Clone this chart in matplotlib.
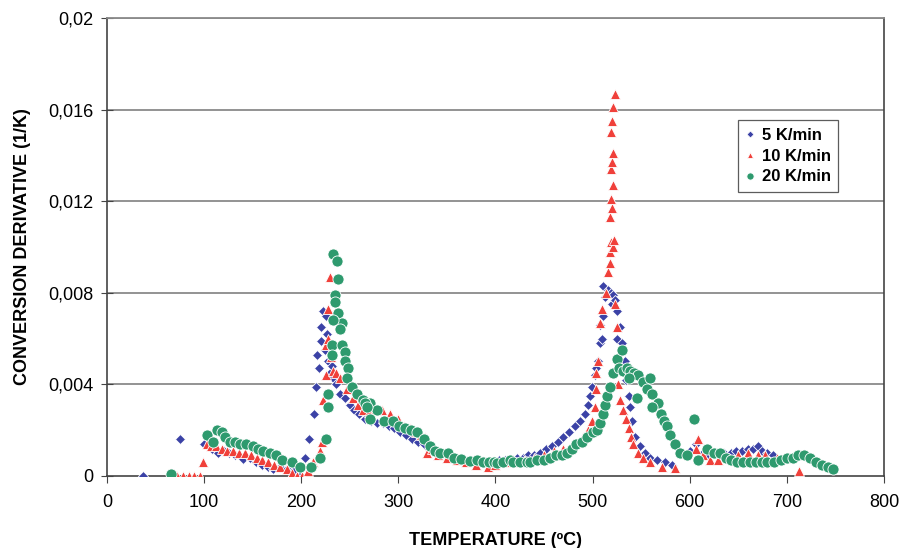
import matplotlib
matplotlib.use("Agg")
import matplotlib.pyplot as plt

# 5 K/min (blue diamonds)
T5 = [37, 75, 100, 108, 114, 120, 126, 132, 140, 147, 153, 160, 166, 171, 178, 185, 192, 199,
      204, 208, 213, 215, 218, 216, 220, 220, 222, 225, 227, 224, 228, 230, 232, 233, 236, 240,
      245, 250, 254, 260, 266, 272, 278, 284, 290, 296, 302, 308, 314, 320, 326, 332, 338, 344,
      350, 356, 362, 368, 374, 380, 386, 392, 398, 404, 410, 416, 422, 428, 434, 440, 446, 452,
      458, 464, 470, 476, 482, 487, 492, 495, 497, 499, 502, 504, 506, 508, 510, 508, 511, 513,
      511, 516, 519, 521, 520, 523, 525, 525, 528, 530, 533, 534, 537, 539, 541, 544, 549, 554,
      559, 566, 575, 582, 600, 606, 614, 620, 628, 635, 642, 648, 654, 660, 665, 670, 674, 680, 686]
d5 = [0.0, 0.0016, 0.0014, 0.0012, 0.0010, 0.0011, 0.0010, 0.0009, 0.00075, 0.0008, 0.0006,
      0.0005, 0.0004, 0.0003, 0.0004, 0.0003, 0.0002, 0.0, 0.0008, 0.0016, 0.0027, 0.0039,
      0.0047, 0.0053, 0.0059, 0.0065, 0.0072, 0.0070, 0.0062, 0.0055, 0.0050, 0.0045, 0.0048,
      0.0043, 0.0040, 0.0036, 0.0034, 0.0031, 0.0029, 0.0027, 0.0025, 0.0024, 0.0023, 0.0023,
      0.0022, 0.0021, 0.0019, 0.0018, 0.0016, 0.0015, 0.0014, 0.0012, 0.0011, 0.0010, 0.0009,
      0.0008, 0.0007, 0.0007, 0.0006, 0.0006, 0.0006, 0.0006, 0.0006, 0.0007, 0.0007, 0.0007,
      0.0008, 0.0008, 0.0009, 0.0009, 0.0010, 0.0012, 0.0013, 0.0015, 0.0017, 0.0019, 0.0022,
      0.0024, 0.0027, 0.0031, 0.0035, 0.0039, 0.0044, 0.0047, 0.0050, 0.0058, 0.0060, 0.0066,
      0.0070, 0.0078, 0.0083, 0.0081, 0.0080, 0.0079, 0.0075, 0.0077, 0.0072, 0.0060, 0.0065,
      0.0058, 0.0050, 0.0042, 0.0035, 0.0030, 0.0024, 0.0017, 0.0013, 0.0010, 0.0008, 0.0007,
      0.0006, 0.0005, 0.0011, 0.0014, 0.0010, 0.0009, 0.0009, 0.0010, 0.0010, 0.0011, 0.0011,
      0.0012, 0.0012, 0.0013, 0.0011, 0.0010, 0.0009]

# 10 K/min (red triangles)
T10 = [72, 78, 84, 90, 96, 99, 103, 107, 112, 118, 124, 130, 136, 142, 148, 154, 160, 166, 172,
       178, 185, 191, 196, 201, 207, 212, 219, 221, 222, 225, 226, 228, 228, 230, 231, 233, 236,
       240, 247, 253, 258, 264, 270, 276, 283, 291, 300, 306, 312, 318, 323, 327, 329, 335, 341,
       350, 360, 370, 380, 392, 400, 410, 420, 430, 440, 450, 460, 470, 480, 490, 495, 499, 502,
       503, 504, 506, 508, 510, 514, 516, 518, 518, 519, 521, 522, 518, 520, 519, 521, 519, 520,
       521, 519, 520, 521, 523, 523, 525, 526, 528, 531, 534, 537, 540, 542, 547, 552, 559, 571,
       585, 606, 609, 614, 621, 629, 640, 650, 660, 670, 678, 690, 713]
d10 = [0.0, 0.0, 0.0, 0.0, 0.0, 0.0006, 0.0014, 0.0013, 0.0013, 0.0012, 0.0011, 0.0011, 0.0010,
       0.0010, 0.0009, 0.0008, 0.0007, 0.0006, 0.0005, 0.0004, 0.0003, 0.00013, 0.0, 0.0,
       0.0002, 0.0006, 0.0011, 0.0015, 0.0033, 0.0044, 0.0057, 0.0060, 0.0073, 0.0087, 0.0052,
       0.0046, 0.0045, 0.0043, 0.0038, 0.0034, 0.0031, 0.0029, 0.0028, 0.0029, 0.0029, 0.0027,
       0.0025, 0.0022, 0.0021, 0.0019, 0.0018, 0.0017, 0.0010, 0.0012, 0.0009, 0.0008, 0.0007,
       0.0006, 0.0005, 0.0004, 0.0005, 0.0006, 0.0006, 0.0007, 0.0008, 0.0009, 0.0011, 0.0012,
       0.0014, 0.0017, 0.0020, 0.0024, 0.0030, 0.0038, 0.0045, 0.0050, 0.0067, 0.0073, 0.0080,
       0.0089, 0.0093, 0.0098, 0.0102, 0.0100, 0.0103, 0.0113, 0.0117, 0.0121, 0.0127, 0.0134,
       0.0137, 0.0141, 0.0150, 0.0155, 0.0161, 0.0167, 0.0075, 0.0065, 0.0040, 0.0033, 0.0029,
       0.0025, 0.0021, 0.0017, 0.0014, 0.0010, 0.0008, 0.0006, 0.0004, 0.00035, 0.0012, 0.0016,
       0.0009, 0.0007, 0.0007, 0.0008, 0.0009, 0.0010, 0.0009, 0.0009, 0.0008, 0.0002]

# 20 K/min (green circles)
T20 = [66, 103, 109, 113, 118, 122, 127, 132, 137, 143, 150, 155, 161, 168, 174, 180, 190, 199,
       210, 219, 226, 228, 228, 233, 237, 238, 235, 235, 238, 242, 233, 240, 232, 242, 245, 232,
       245, 248, 247, 252, 257, 264, 271, 278, 266, 268, 271, 285, 295, 301, 307, 313, 319, 326,
       333, 338, 343, 351, 357, 364, 374, 381, 387, 393, 398, 402, 408, 415, 418, 425, 432, 436,
       443, 450, 456, 462, 468, 474, 479, 483, 489, 494, 500, 505, 508, 511, 513, 515, 518, 521,
       525, 530, 527, 531, 535, 539, 543, 547, 537, 552, 559, 556, 561, 567, 546, 561, 570, 574,
       577, 580, 585, 590, 597, 604, 609, 618, 625, 631, 637, 643, 649, 655, 662, 668, 674, 680,
       687, 694, 700, 706, 712, 718, 724, 730, 736, 742, 748]
d20 = [0.0001, 0.0018, 0.0015, 0.0020, 0.0019, 0.0017, 0.0015, 0.0015, 0.0014, 0.0014, 0.0013,
       0.0012, 0.0011, 0.0010, 0.0009, 0.0007, 0.0006, 0.0004, 0.0004, 0.0008, 0.0016, 0.0030,
       0.0036, 0.0097, 0.0094, 0.0086, 0.0079, 0.0076, 0.0071, 0.0067, 0.0068, 0.0064, 0.0057,
       0.0057, 0.0054, 0.0053, 0.0050, 0.0047, 0.0043, 0.0039, 0.0036, 0.0033, 0.0032, 0.0029,
       0.0032, 0.0030, 0.0025, 0.0024, 0.0024, 0.0022, 0.0021, 0.0020, 0.0019, 0.0016, 0.0013,
       0.0011, 0.0010, 0.0010, 0.0008, 0.00074, 0.00066, 0.0007, 0.0006, 0.0006, 0.0006, 0.00057,
       0.0006, 0.0007, 0.0006, 0.0006, 0.0006, 0.0006, 0.0007, 0.0007, 0.0008, 0.0009, 0.0009,
       0.0010, 0.0012, 0.0014, 0.0015, 0.0017, 0.0019, 0.0020, 0.0023, 0.0027, 0.0031, 0.0035,
       0.0039, 0.0045, 0.0051, 0.0055, 0.0047, 0.0046, 0.0047, 0.0046, 0.0045, 0.0044, 0.0043,
       0.0041, 0.0043, 0.0038, 0.0036, 0.0032, 0.0034, 0.0030, 0.0027, 0.0024, 0.0022, 0.0018,
       0.0014, 0.0010, 0.0009, 0.0025, 0.0007, 0.0012, 0.0010, 0.0010, 0.0008, 0.0007, 0.0006,
       0.0006, 0.0006, 0.0006, 0.0006, 0.0006, 0.0006, 0.0007, 0.0008, 0.0008, 0.0009, 0.0009,
       0.0008, 0.0006, 0.0005, 0.0004, 0.0003]

yticks = [0, 0.004, 0.008, 0.012, 0.016, 0.02]
ytick_labels = ["0", "0,004", "0,008", "0,012", "0,016", "0,02"]
xticks = [0, 100, 200, 300, 400, 500, 600, 700, 800]

plt.rcParams["font.family"] = ["Liberation Sans", "DejaVu Sans"]

fig = plt.figure(figsize=(9.02, 5.48), dpi=100)
ax = fig.add_axes([0.1186, 0.1314, 0.8614, 0.8358])

for y in yticks[1:]:
    ax.axhline(y, color="#8a8a8a", lw=1.3, zorder=1)

ax.plot(T5, d5, ls="none", marker="D", ms=5.5, color="#3b42a6", mec="white", mew=0.6,
        label="5 K/min", zorder=3)
ax.plot(T10, d10, ls="none", marker="^", ms=7, color="#f0403a", mec="white", mew=0.6,
        label="10 K/min", zorder=3)
ax.plot(T20, d20, ls="none", marker="o", ms=8, color="#2e9a6e", mec="white", mew=0.6,
        label="20 K/min", zorder=3)

ax.set_xlim(0, 800)
ax.set_ylim(0, 0.02)
ax.set_xticks(xticks)
ax.set_yticks(yticks)
ax.set_yticklabels(ytick_labels)
ax.tick_params(axis="x", direction="out", length=5, labelsize=13, color="#444444", pad=8)
ax.tick_params(axis="y", direction="inout", length=8, labelsize=13, color="#444444", pad=6)
for s in ["left", "bottom", "right"]:
    ax.spines[s].set_color("#444444")
    ax.spines[s].set_linewidth(1.2)
ax.spines["top"].set_color("#8a8a8a")
ax.spines["top"].set_linewidth(1.3)

ax.set_xlabel("TEMPERATURE (ºC)", fontsize=13, fontweight="bold", labelpad=15)
ax.set_ylabel("CONVERSION DERIVATIVE (1/K)", fontsize=13, fontweight="bold", labelpad=12)

leg = ax.legend(loc="upper right", bbox_to_anchor=(0.952, 0.795), frameon=True, fancybox=False,
                edgecolor="#333333", prop={"weight": "bold", "size": 12}, handlelength=0.6,
                handletextpad=0.4, borderpad=0.45, labelspacing=0.35, markerscale=0.65)
leg.get_frame().set_linewidth(0.9)

fig.savefig("out.png", dpi=100)
